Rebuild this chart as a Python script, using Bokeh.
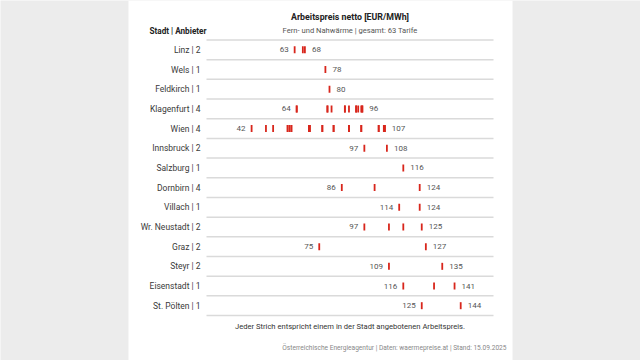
from bokeh.plotting import figure
from bokeh.models import Range1d, BoxAnnotation
from bokeh.core.properties import value
from bokeh.embed import file_html
from bokeh.resources import INLINE

# ---------------- data ----------------
cities = ["Linz", "Wels", "Feldkirch", "Klagenfurt", "Wien", "Innsbruck", "Salzburg",
          "Dornbirn", "Villach", "Wr. Neustadt", "Graz", "Steyr", "Eisenstadt", "St. Pölten"]
providers = [2, 1, 1, 4, 4, 2, 1, 4, 1, 2, 2, 2, 1, 1]

linz = [63, 67, 68]
wels = [78]
feldkirch = [80]
klagenfurt = [64, 64, 79, 79, 81, 87.5, 87.5, 89.5, 93, 93, 94, 95.5, 96, 96]
wien = [42, 49, 52.5, 59.5, 60.5, 60.5, 61.5, 70, 70, 70.5, 76.5, 76.5, 82, 82,
        89.5, 89.5, 95.5, 95.5, 104, 104, 106.5, 107, 107]
innsbruck = [97, 108]
salzburg = [116]
dornbirn = [86, 102, 124]
villach = [114, 124]
wr_neustadt = [97, 109, 116, 125]
graz = [75, 127]
steyr = [109, 135]
eisenstadt = [116, 131, 141]
st_poelten = [125, 144]

prices = [linz, wels, feldkirch, klagenfurt, wien, innsbruck, salzburg, dornbirn,
          villach, wr_neustadt, graz, steyr, eisenstadt, st_poelten]

title = "Arbeitspreis netto [EUR/MWh]"
subtitle = "Fern- und Nahwärme | gesamt: 63 Tarife"
header = "Stadt | Anbieter"
footnote = "Jeder Strich entspricht einem in der Stadt angebotenen Arbeitspreis."
source_txt = "Österreichische Energieagentur | Daten: waermepreise.at | Stand: 15.09.2025"

# ---------------- layout constants ----------------
W, H = 640, 360
FONT = "Roboto"
RED = "#d8261c"
XMIN, XMAX = 20, 160          # value domain of the chart area
PX_L, PX_R = 206, 493         # pixel position of chart area
ROW0_PX, ROW_H = 49.35, 19.68

sx = (PX_R - PX_L) / (XMAX - XMIN)
def px_to_x(px):
    return XMIN + (px - PX_L) / sx
def py_to_y(py):
    return (py - ROW0_PX) / ROW_H

p = figure(width=W, height=H, output_backend="svg", toolbar_location=None,
           x_range=Range1d(px_to_x(0), px_to_x(W)),
           y_range=Range1d(py_to_y(H), py_to_y(0)),
           x_axis_type=None, y_axis_type=None, min_border=0)
p.grid.visible = False
p.outline_line_color = None
p.background_fill_color = "#ececec"
p.border_fill_color = "#ececec"

p.add_layout(BoxAnnotation(left=px_to_x(128), right=px_to_x(512), fill_color="white",
                           fill_alpha=1, line_color=None, level="underlay"))

n = len(cities)
rows = list(range(n))

# separators
bounds = [i - 0.5 for i in range(n + 1)]
p.segment(x0=[XMIN] * len(bounds), x1=[XMAX] * len(bounds), y0=bounds, y1=bounds,
          line_color="#dadada", line_width=1.5)

# ticks
tx, ty = [], []
for i, vals in enumerate(prices):
    for v in vals:
        tx.append(v)
        ty.append(i)
p.rect(x=tx, y=ty, width=1.8, height=7, width_units="screen", height_units="screen",
       fill_color=RED, line_color=None)

# min / max labels
mins = [min(v) for v in prices]
maxs = [max(v) for v in prices]
multi = [i for i in rows if len(set(prices[i])) > 1]
p.text(x=[mins[i] for i in multi], y=multi, text=[f"{mins[i]:.0f}" for i in multi],
       x_offset=-6, text_align="right", text_baseline="middle",
       text_font=value(FONT), text_font_size="8px", text_color="#555555")
p.text(x=maxs, y=rows, text=[f"{m:.0f}" for m in maxs],
       x_offset=7, text_align="left", text_baseline="middle",
       text_font=value(FONT), text_font_size="8px", text_color="#555555")

# row labels
p.text(x=[XMIN] * n, y=rows, text=[f"{c} | {k}" for c, k in zip(cities, providers)],
       x_offset=-6, text_align="right", text_baseline="middle",
       text_font=value(FONT), text_font_size="8.5px", text_color="#3a3a3a")

# header texts
p.text(x=[XMIN], y=[py_to_y(30)], text=[header], text_align="right", text_baseline="middle",
       text_font=value(FONT), text_font_size="8.2px", text_font_style="bold", text_color="#222222")
p.text(x=[(XMIN + XMAX) / 2], y=[py_to_y(16)], text=[title], text_align="center",
       text_baseline="middle", text_font=value(FONT), text_font_size="8.8px",
       text_font_style="bold", text_color="#222222")
p.text(x=[(XMIN + XMAX) / 2], y=[py_to_y(30)], text=[subtitle], text_align="center",
       text_baseline="middle", text_font=value(FONT), text_font_size="7.6px", text_color="#555555")
p.text(x=[(XMIN + XMAX) / 2], y=[py_to_y(326)], text=[footnote], text_align="center",
       text_baseline="middle", text_font=value(FONT), text_font_size="7.6px", text_color="#333333")
p.text(x=[px_to_x(506)], y=[py_to_y(347)], text=[source_txt], text_align="right",
       text_baseline="middle", text_font=value(FONT), text_font_size="6.6px", text_color="#888888")

open("out.html", "w").write(file_html(p, INLINE))
